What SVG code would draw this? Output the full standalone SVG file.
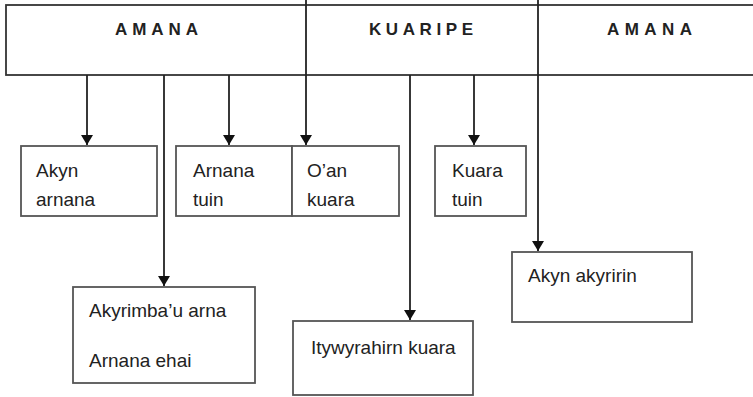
<svg xmlns="http://www.w3.org/2000/svg" width="753" height="397" viewBox="0 0 753 397">
<style>
.box{fill:#fff;stroke:#555;stroke-width:1.8}
.hdr{fill:#fff;stroke:#333;stroke-width:1.8}
.conn{stroke:#222;stroke-width:1.8;fill:none}
.h{font-family:"Liberation Sans",Arial,sans-serif;font-weight:bold;font-size:17px;fill:#222}
.t{font-family:"Liberation Sans",Arial,sans-serif;font-size:19px;fill:#222}
</style>
<defs>
<marker id="ah" viewBox="0 0 10 12" refX="10" refY="6" markerWidth="10" markerHeight="12" markerUnits="userSpaceOnUse" orient="auto">
<path d="M0,0 L10,6 L0,12 Z" fill="#111"/>
</marker>
</defs>
<rect width="753" height="397" fill="#fff"/>
<g id="header">
<rect class="hdr" x="6" y="5" width="760" height="70"/>
<text class="h" x="115" y="35" textLength="83" lengthAdjust="spacing">AMANA</text>
<text class="h" x="369" y="35" textLength="104" lengthAdjust="spacing">KUARIPE</text>
<text class="h" x="607" y="35" textLength="85" lengthAdjust="spacing">AMANA</text>
</g>
<g id="connectors">
<line class="conn" x1="87" y1="75" x2="87" y2="145" marker-end="url(#ah)"/>
<line class="conn" x1="164" y1="75" x2="164" y2="286" marker-end="url(#ah)"/>
<line class="conn" x1="229" y1="75" x2="229" y2="145" marker-end="url(#ah)"/>
<line class="conn" x1="306" y1="0" x2="306" y2="145" marker-end="url(#ah)"/>
<line class="conn" x1="410" y1="75" x2="410" y2="320" marker-end="url(#ah)"/>
<line class="conn" x1="474" y1="75" x2="474" y2="145" marker-end="url(#ah)"/>
<line class="conn" x1="538" y1="0" x2="538" y2="251" marker-end="url(#ah)"/>
</g>
<g id="akyn-arnana">
<rect class="box" x="21" y="146" width="136" height="70"/>
<text class="t" x="36" y="177">Akyn</text>
<text class="t" x="36" y="206">arnana</text>
</g>
<g id="arnana-tuin">
<rect class="box" x="176" y="146" width="116" height="70"/>
<text class="t" x="193" y="177">Arnana</text>
<text class="t" x="193" y="206">tuin</text>
</g>
<g id="oan-kuara">
<rect class="box" x="292" y="146" width="107" height="70"/>
<text class="t" x="307" y="177">O’an</text>
<text class="t" x="307" y="206">kuara</text>
</g>
<g id="kuara-tuin">
<rect class="box" x="435" y="146" width="91" height="70"/>
<text class="t" x="452" y="177">Kuara</text>
<text class="t" x="452" y="206">tuin</text>
</g>
<g id="akyrimbau-arna">
<rect class="box" x="73" y="287" width="182" height="96"/>
<text class="t" x="89" y="317">Akyrimba’u arna</text>
<text class="t" x="89" y="367">Arnana ehai</text>
</g>
<g id="itywyrahirn-kuara">
<rect class="box" x="293" y="321" width="180" height="74"/>
<text class="t" x="311" y="354">Itywyrahirn kuara</text>
</g>
<g id="akyn-akyririn">
<rect class="box" x="512" y="252" width="180" height="70"/>
<text class="t" x="528" y="282">Akyn akyririn</text>
</g>
</svg>
